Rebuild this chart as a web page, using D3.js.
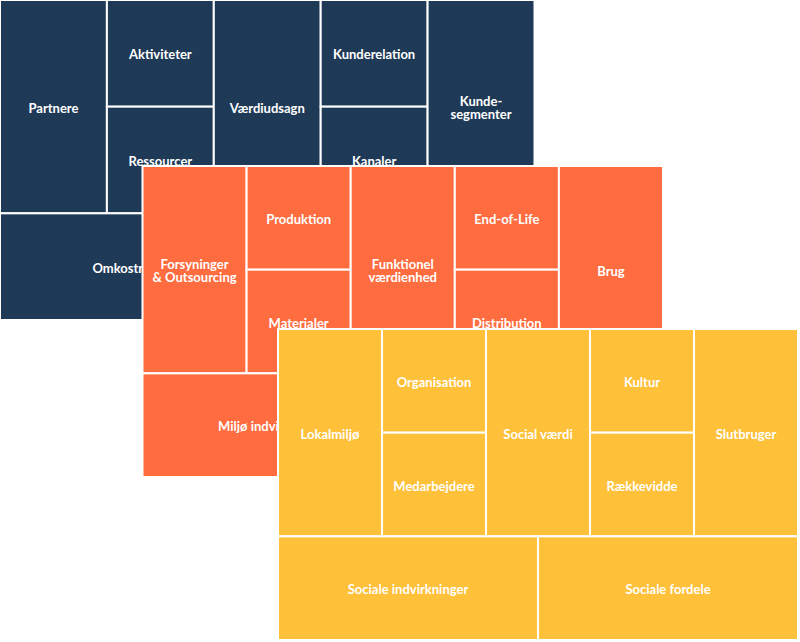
<!DOCTYPE html>
<html><head><meta charset="utf-8">
<script src="https://cdn.jsdelivr.net/npm/d3@7"></script>
<style>body{margin:0;background:#fff;}svg{display:block;}</style>
</head><body>
<svg id="chart" width="800" height="642"></svg>
<script>
// Canvas layers (drawn bottom to top)
const layerNames = ["Forretningsmodel", "Miljø", "Social"];
const layerColors = ["#1f3a57", "#ff6c40", "#ffc03a"];

// Cell labels for each layer (same 9-block layout)
const bmcLabels = ["Partnere", "Aktiviteter", "Ressourcer", "Værdiudsagn", "Kunderelation", "Kanaler", "Kunde-\nsegmenter", "Omkostninger", "Indtægter"];
const envLabels = ["Forsyninger\n& Outsourcing", "Produktion", "Materialer", "Funktionel\nværdienhed", "End-of-Life", "Distribution", "Brug", "Miljø indvirkninger", "Miljø fordele"];
const socLabels = ["Lokalmiljø", "Organisation", "Medarbejdere", "Social værdi", "Kultur", "Rækkevidde", "Slutbruger", "Sociale indvirkninger", "Sociale fordele"];
const layerLabels = [bmcLabels, envLabels, socLabels];

// Grid blocks in layout units: [col0, col1] and [row0, row1] on a 10 x 3 grid
const blockCols = [[0,2],[2,4],[2,4],[4,6],[6,8],[6,8],[8,10],[0,5],[5,10]];
const blockRows = [[0,2],[0,1],[1,2],[0,2],[0,1],[1,2],[0,2],[2,3],[2,3]];

// Layer frames (pixel extents)
const frames = [
  {x:[0,534.5], y:[0,320]},
  {x:[142.5,663], y:[166,477]},
  {x:[278,798], y:[329,640]}
];

const svg = d3.select("#chart");

// a cell is hidden if it lies completely inside a frame drawn later
function hidden(li, x0, x1, y0, y1) {
  return frames.slice(li + 1).some(f =>
    x0 >= f.x[0] && x1 <= f.x[1] && y0 >= f.y[0] && y1 <= f.y[1]);
}

layerNames.forEach((name, li) => {
  const f = frames[li];
  const xs = d3.scaleLinear().domain([0,10]).range(f.x);
  const ys = d3.scaleLinear().domain([0,3]).range(f.y);
  const cells = layerLabels[li].map((lab, i) => {
    const x0 = xs(blockCols[i][0]), x1 = xs(blockCols[i][1]);
    const y0 = ys(blockRows[i][0]), y1 = ys(blockRows[i][1]);
    return {label: lab, x0, x1, y0, y1, hidden: hidden(li, x0, x1, y0, y1)};
  });
  const g = svg.append("g").attr("class", "layer layer-" + li);
  g.selectAll("rect").data(cells).join("rect")
    .attr("x", d => d.x0)
    .attr("y", d => d.y0)
    .attr("width", d => d.x1 - d.x0)
    .attr("height", d => d.y1 - d.y0)
    .attr("fill", layerColors[li])
    .attr("stroke", "#fff")
    .attr("stroke-width", 2);
  const t = g.selectAll("text").data(cells.filter(d => !d.hidden)).join("text")
    .attr("x", d => (d.x0 + d.x1) / 2)
    .attr("y", d => (d.y0 + d.y1) / 2)
    .attr("text-anchor", "middle")
    .attr("fill", "#fff")
    .attr("font-family", "Lato, 'Noto Sans', sans-serif")
    .attr("font-weight", 700)
    .attr("font-size", "13px");
  t.each(function(d) {
    const lines = d.label.split("\n");
    const sel = d3.select(this);
    const cx = (d.x0 + d.x1) / 2, cy = (d.y0 + d.y1) / 2 + 1.5;
    const lh = 13;
    lines.forEach((ln, k) => {
      sel.append("tspan")
        .attr("x", cx)
        .attr("y", cy + (k - (lines.length - 1) / 2) * lh)
        .attr("dy", "0.35em")
        .text(ln);
    });
  });
});
</script>
</body></html>
